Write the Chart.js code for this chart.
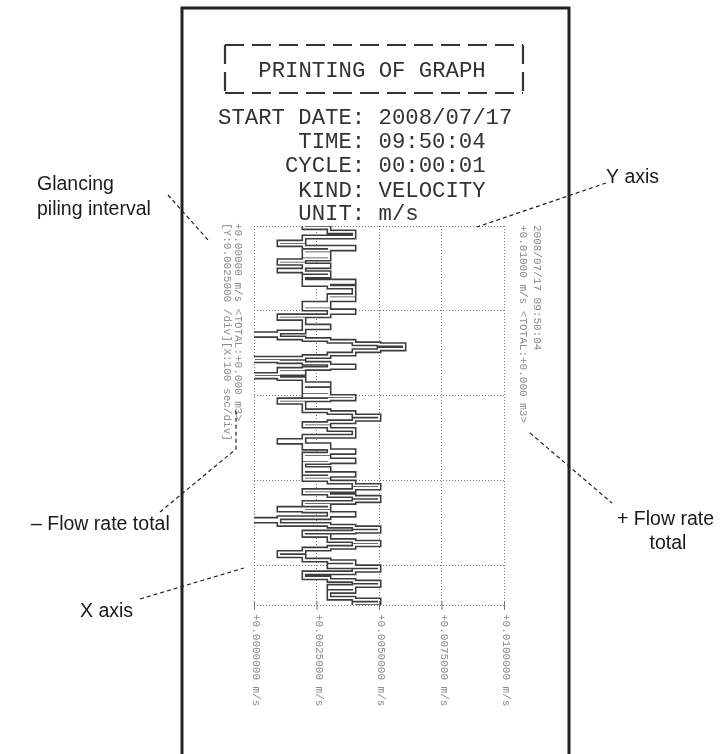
<!DOCTYPE html>
<html>
<head>
<meta charset="utf-8">
<script src="https://cdn.jsdelivr.net/npm/chart.js@4.4.1/dist/chart.umd.min.js"></script>
<style>
  html, body { margin: 0; padding: 0; background: #fff; }
  #wrap { width: 726px; height: 754px; }
</style>
</head>
<body>
<div id="wrap"><canvas id="myChart" width="726" height="754"></canvas></div>
<script>
// elapsed time (s) where each step starts, and the velocity held from there (m/s)
const timeSec = [
  0, 2, 7, 13, 19, 22, 25, 27, 29, 32, 34, 36, 39, 41, 44, 46, 48, 52, 53, 55,
  59, 65, 67, 69, 72, 82, 85, 87, 91, 93, 95, 98, 100, 102, 106, 109, 118, 120, 125, 127,
  129, 132, 134, 136, 139, 140, 145, 147, 151, 154, 156, 159, 160, 162, 165, 167, 168, 169, 172, 174,
  175, 178, 180, 186, 188, 192, 194, 196, 199, 201, 204, 205, 208, 218, 220, 224, 228, 231, 233, 236,
  240, 248, 253, 255, 258, 260, 262, 265, 267, 269, 272, 274, 276, 278, 279, 286, 288, 292, 294, 296,
  299, 302, 306, 309, 312, 315, 318, 320, 324, 326, 329, 333, 335, 336, 339, 341, 344, 346, 348, 352,
  354, 356, 360, 361, 365, 371, 373, 376, 379, 381, 385, 389, 394, 396, 400, 402, 406, 409, 415, 418,
  420, 424, 425, 427, 431, 439, 441, 445, 447
];
const velocity = [
  0.002, 0.003, 0.004, 0.002, 0.001, 0.002, 0.004, 0.003, 0.002, 0.003, 0.002, 0.003, 0.002, 0.001, 0.002, 0.003, 0.002, 0.001, 0.002, 0.003,
  0.002, 0.004, 0.002, 0.003, 0.004, 0.003, 0.004, 0.003, 0.002, 0.003, 0.002, 0.003, 0.004, 0.003, 0.001, 0.002, 0.003, 0.002, 0.001, 0.000,
  0.001, 0.002, 0.003, 0.004, 0.005, 0.006, 0.005, 0.004, 0.003, 0.002, 0.000, 0.001, 0.002, 0.003, 0.004, 0.003, 0.002, 0.001, 0.002, 0.001,
  0.000, 0.001, 0.002, 0.003, 0.002, 0.003, 0.002, 0.003, 0.002, 0.004, 0.003, 0.001, 0.002, 0.003, 0.004, 0.005, 0.004, 0.003, 0.002, 0.003,
  0.004, 0.002, 0.001, 0.002, 0.003, 0.002, 0.003, 0.004, 0.003, 0.002, 0.003, 0.002, 0.004, 0.003, 0.002, 0.003, 0.002, 0.004, 0.003, 0.002,
  0.003, 0.004, 0.005, 0.004, 0.002, 0.003, 0.004, 0.005, 0.004, 0.002, 0.003, 0.001, 0.002, 0.003, 0.004, 0.003, 0.001, 0.000, 0.001, 0.003,
  0.004, 0.005, 0.004, 0.002, 0.003, 0.004, 0.005, 0.004, 0.003, 0.002, 0.001, 0.002, 0.003, 0.004, 0.003, 0.005, 0.004, 0.002, 0.003, 0.004,
  0.005, 0.004, 0.003, 0.004, 0.003, 0.004, 0.005, 0.004, 0.004
];
const xTicks = [0, 0.0025, 0.005, 0.0075, 0.01];
const xTickLabels = ['+0.0000000 m/s', '+0.0025000 m/s', '+0.0050000 m/s', '+0.0075000 m/s', '+0.0100000 m/s'];
const yTicks = [0, 100, 200, 300, 400, 447];

const titleText = 'PRINTING OF GRAPH';
const headerLines = [
  'START DATE: 2008/07/17',
  '      TIME: 09:50:04',
  '     CYCLE: 00:00:01',
  '      KIND: VELOCITY',
  '      UNIT: m/s'
];
const leftSide = ['+0.00000 m/s <TOTAL:+0.000 m3>', '[Y:0.0025000 /div][X:100 sec/div]'];
const rightSide = ['2008/07/17 09:50:04', '+0.01000 m/s <TOTAL:+0.000 m3>'];

const MONO = '"Liberation Mono", "DejaVu Sans Mono", monospace';
const SANS = '"Liberation Sans", Arial, sans-serif';

function dashedLine(ctx, pts) {
    ctx.save();
    ctx.strokeStyle = '#222';
    ctx.lineWidth = 1.2;
    ctx.setLineDash([4, 3]);
    ctx.beginPath();
    ctx.moveTo(pts[0][0], pts[0][1]);
    for (let i = 1; i < pts.length; i++) ctx.lineTo(pts[i][0], pts[i][1]);
    ctx.stroke();
    ctx.restore();
}

// text printed sideways (reads top to bottom), first line on the right
function sideText(ctx, lines, x0, step, y0) {
    ctx.save();
    ctx.fillStyle = '#8c8c8c';
    ctx.font = '11px ' + MONO;
    ctx.textAlign = 'left';
    ctx.textBaseline = 'middle';
    lines.forEach((s, i) => {
        ctx.save();
        ctx.translate(x0 - i * step, y0);
        ctx.rotate(Math.PI / 2);
        ctx.fillText(s, 0, 0);
        ctx.restore();
    });
    ctx.restore();
}

const printout = {
    id: 'printout',
    beforeDraw(chart) {
        const ctx = chart.ctx;
        ctx.save();
        ctx.fillStyle = '#fff';
        ctx.fillRect(0, 0, chart.width, chart.height);
        ctx.restore();
    },
    afterDraw(chart) {
        const ctx = chart.ctx;
        const xs = chart.scales.x;
        const ys = chart.scales.y;
        ctx.save();

        // paper frame
        ctx.strokeStyle = '#222';
        ctx.lineWidth = 3;
        ctx.beginPath();
        ctx.moveTo(182, 760);
        ctx.lineTo(182, 8);
        ctx.lineTo(569, 8);
        ctx.lineTo(569, 760);
        ctx.stroke();

        // dashed title box
        ctx.lineWidth = 2.2;
        ctx.strokeStyle = '#333';
        ctx.setLineDash([19, 8]);
        ctx.beginPath();
        ctx.moveTo(225, 45); ctx.lineTo(523, 45);
        ctx.moveTo(225, 93); ctx.lineTo(523, 93);
        ctx.moveTo(225, 45); ctx.lineTo(225, 93);
        ctx.moveTo(523, 45); ctx.lineTo(523, 93);
        ctx.stroke();
        ctx.setLineDash([]);

        // header text
        ctx.fillStyle = '#333';
        ctx.font = '22.3px ' + MONO;
        ctx.textBaseline = 'alphabetic';
        ctx.textAlign = 'center';
        ctx.fillText(titleText, 372, 77);
        ctx.textAlign = 'left';
        const base = [124, 148, 172, 197, 220];
        headerLines.forEach((s, i) => ctx.fillText(s, 218, base[i]));

        // rotated side notes
        sideText(ctx, leftSide, 238, 11, 223);
        sideText(ctx, rightSide, 537, 14, 225);

        // x tick marks and rotated labels
        const yb = ys.getPixelForValue(yTicks[yTicks.length - 1]);
        ctx.strokeStyle = '#777';
        ctx.lineWidth = 1;
        xTicks.forEach(v => {
            const px = xs.getPixelForValue(v);
            ctx.beginPath();
            ctx.moveTo(px + 0.5, yb - 4);
            ctx.lineTo(px + 0.5, yb + 5);
            ctx.stroke();
        });
        ctx.fillStyle = '#8c8c8c';
        ctx.font = '11px ' + MONO;
        ctx.textBaseline = 'middle';
        xTicks.forEach((v, i) => {
            const px = xs.getPixelForValue(v);
            ctx.save();
            ctx.translate(px + 2, yb + 9);
            ctx.rotate(Math.PI / 2);
            ctx.fillText(xTickLabels[i], 0, 0);
            ctx.restore();
        });

        // annotations
        ctx.fillStyle = '#1a1a1a';
        ctx.font = '19.5px ' + SANS;
        ctx.textBaseline = 'alphabetic';
        ctx.textAlign = 'left';
        ctx.fillText('Glancing', 37, 190);
        ctx.fillText('piling interval', 37, 215);
        ctx.fillText('\u2013 Flow rate total', 31, 530);
        ctx.fillText('X axis', 80, 617);
        ctx.fillText('Y axis', 606, 183);
        ctx.fillText('+ Flow rate', 617, 525);
        ctx.textAlign = 'center';
        ctx.fillText('total', 668, 549);

        dashedLine(ctx, [[168, 195], [209, 241]]);
        dashedLine(ctx, [[160, 512], [236, 449], [236, 410]]);
        dashedLine(ctx, [[140, 599], [244, 568]]);
        dashedLine(ctx, [[606, 183], [477, 227]]);
        dashedLine(ctx, [[530, 433], [612, 503]]);

        ctx.restore();
    }
};

const points = timeSec.map((t, i) => ({ x: velocity[i], y: t }));

const ctx = document.getElementById('myChart').getContext('2d');
const chart = new Chart(ctx, {
    type: 'line',
    data: {
        datasets: [{
            // hollow centre of the printed trace
            data: points,
            borderColor: '#ffffff',
            borderWidth: 1.8,
            stepped: 'after',
            pointRadius: 0,
            borderJoinStyle: 'miter',
            fill: false
        }, {
            data: points,
            borderColor: '#3d3d3d',
            borderWidth: 5,
            stepped: 'after',
            pointRadius: 0,
            borderJoinStyle: 'miter',
            fill: false
        }]
    },
    options: {
        responsive: false,
        animation: false,
        events: [],
        layout: { padding: { left: 254, right: 222, top: 226, bottom: 149 } },
        plugins: { legend: { display: false }, tooltip: { enabled: false } },
        scales: {
            x: {
                type: 'linear',
                min: 0,
                max: 0.01,
                afterBuildTicks: s => { s.ticks = xTicks.map(v => ({ value: v })); },
                ticks: { display: false },
                grid: { color: '#7a7a7a', lineWidth: 1, drawTicks: false },
                border: { display: false, dash: [1, 2] }
            },
            y: {
                type: 'linear',
                reverse: true,
                min: 0,
                max: 447,
                afterBuildTicks: s => { s.ticks = yTicks.map(v => ({ value: v })); },
                ticks: { display: false },
                grid: { color: '#7a7a7a', lineWidth: 1, drawTicks: false },
                border: { display: false, dash: [1, 2] }
            }
        }
    },
    plugins: [printout]
});
</script>
</body>
</html>
